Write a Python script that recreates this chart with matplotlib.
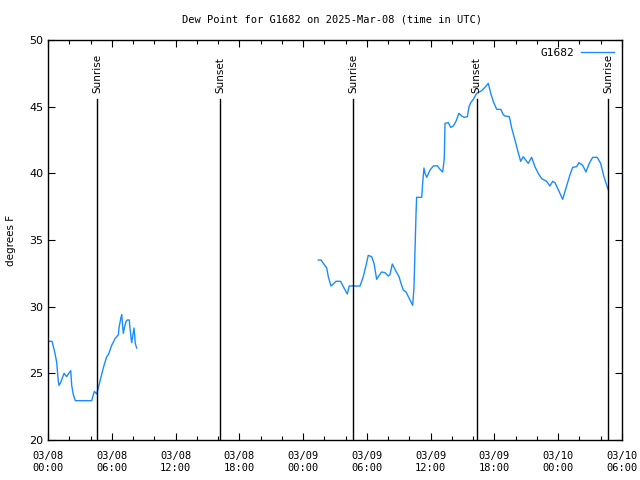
import pandas as pd
import numpy as np
import matplotlib
matplotlib.use('Agg')
import matplotlib.pyplot as plt
import matplotlib.dates as mdates

# hours since 2025-03-08 00:00 UTC, dew point in F
hours_a = [0.00, 0.38, 0.66, 0.82, 0.97, 1.03, 1.19, 1.51, 1.76, 1.95, 2.14, 2.23, 2.38, 2.57,
           4.11, 4.36, 4.58, 4.73, 5.20, 5.52, 5.68, 5.99, 6.31, 6.62, 6.68, 6.84, 6.93, 6.99,
           7.08, 7.18, 7.34, 7.46, 7.65, 7.71, 7.87, 7.96, 8.09, 8.15, 8.21, 8.34]
dew_a = [27.4, 27.4, 26.5, 25.8, 24.4, 24.1, 24.3, 25.0, 24.75, 25.0, 25.2, 24.1, 23.4, 22.95,
         22.95, 23.65, 23.45, 23.9, 25.4, 26.25, 26.4, 27.1, 27.6, 27.9, 28.4, 29.1, 29.4, 28.9,
         28.0, 28.4, 28.9, 29.0, 29.0, 28.4, 27.3, 27.75, 28.4, 27.9, 27.25, 26.9]

hours_b = [25.43, 25.68, 25.90, 26.22, 26.37, 26.62, 26.84, 27.09, 27.53, 27.85, 28.16, 28.34,
           29.35, 29.66, 29.92, 30.13, 30.45, 30.67, 30.92, 31.11, 31.39, 31.70, 32.01, 32.17,
           32.39, 32.64, 33.02, 33.21, 33.42, 33.68, 34.06, 34.31, 34.43, 34.52, 34.62, 34.68,
           35.16, 35.25, 35.37, 35.47, 35.63, 35.94, 36.25, 36.62, 36.88, 37.13, 37.28, 37.35,
           37.66, 37.88, 38.13, 38.38, 38.66, 38.92, 39.16, 39.45, 39.61, 39.77, 40.01, 40.33,
           40.57, 40.80, 41.11, 41.42, 41.65, 41.89, 42.21, 42.59, 42.83, 42.99, 43.40, 43.62,
           43.93, 44.24, 44.47, 44.71, 45.18, 45.50, 45.81, 46.12, 46.44, 46.91, 47.22, 47.48,
           47.70, 48.10, 48.42, 48.73, 49.11, 49.36, 49.74, 49.95, 50.30, 50.61, 50.92, 51.24,
           51.67, 51.99, 52.30, 52.71]
dew_b = [33.5, 33.5, 33.25, 32.9, 32.25, 31.55, 31.7, 31.9, 31.9, 31.4, 30.95, 31.55,
         31.55, 32.25, 33.1, 33.85, 33.75, 33.25, 32.05, 32.3, 32.6, 32.55, 32.3, 32.4,
         33.2, 32.8, 32.25, 31.75, 31.25, 31.1, 30.5, 30.1, 31.45, 34.1, 36.9, 38.2,
         38.2, 39.3, 40.4, 40.0, 39.7, 40.25, 40.55, 40.57, 40.3, 40.1, 41.1, 43.75,
         43.8, 43.45, 43.55, 43.9, 44.5, 44.3, 44.2, 44.25, 45.0, 45.3, 45.55, 46.0,
         46.1, 46.2, 46.45, 46.75, 46.0, 45.4, 44.8, 44.8, 44.4, 44.3, 44.25, 43.4,
         42.5, 41.55, 40.9, 41.25, 40.75, 41.2, 40.5, 40.0, 39.6, 39.4, 39.05, 39.4,
         39.3, 38.6, 38.05, 38.9, 39.9, 40.45, 40.5, 40.8, 40.6, 40.1, 40.75, 41.2,
         41.2, 40.75, 39.75, 38.75]

sun_hours = [4.61, 16.18, 28.69, 40.33, 52.71]
sun_names = ['Sunrise', 'Sunset', 'Sunrise', 'Sunset', 'Sunrise']

start = pd.Timestamp('2025-03-08 00:00')
hours = hours_a + [np.nan] + hours_b
dew = dew_a + [np.nan] + dew_b
times = [start + pd.Timedelta(hours=h) if not np.isnan(h) else pd.NaT for h in hours]
times = pd.Series(times).ffill()

fig = plt.figure(figsize=(6.4, 4.8), dpi=100)
ax = fig.add_axes([48/640, 40/480, 574/640, 400/480])

ax.plot(times, dew, color='#1a8cff', lw=1, label='G1682')

for h, name in zip(sun_hours, sun_names):
    t = start + pd.Timedelta(hours=h)
    ax.plot([t, t], [20, 45.55], color='black', lw=1)
    ax.text(t, 46.0, name, rotation=90, ha='center', va='bottom',
            fontsize=7.5, family='DejaVu Sans')

ax.set_xlim(start, start + pd.Timedelta(hours=54))
ax.set_ylim(20, 50)
ax.xaxis.set_major_locator(mdates.HourLocator(byhour=[0, 6, 12, 18]))
ax.xaxis.set_minor_locator(mdates.HourLocator(interval=2))
ax.xaxis.set_major_formatter(mdates.DateFormatter('%m/%d\n%H:%M'))
ax.set_yticks(range(20, 51, 5))

ax.tick_params(which='both', direction='in', top=True, right=True, color='black')
ax.tick_params(which='major', length=5, width=0.8)
ax.tick_params(which='minor', length=3, width=0.8)
ax.tick_params(axis='x', pad=8)
for lab in ax.get_xticklabels():
    lab.set_family('DejaVu Sans Mono')
    lab.set_fontsize(7.5)
for lab in ax.get_yticklabels():
    lab.set_family('DejaVu Sans')
    lab.set_fontsize(8)
for s in ax.spines.values():
    s.set_linewidth(1)

ax.set_ylabel('degrees F', fontsize=7.5, family='DejaVu Sans')
ax.yaxis.set_label_coords(-0.055, 0.5)

fig.text(332/640, 1 - 19/480, 'Dew Point for G1682 on 2025-Mar-08 (time in UTC)',
         ha='center', va='center', fontsize=7.5, family='DejaVu Sans Mono')

leg = ax.legend(loc='upper right', frameon=False, markerfirst=False,
                prop={'family': 'DejaVu Sans Mono', 'size': 8},
                handlelength=3, borderaxespad=0.3, handletextpad=0.6)

fig.savefig('out.png', dpi=100)
